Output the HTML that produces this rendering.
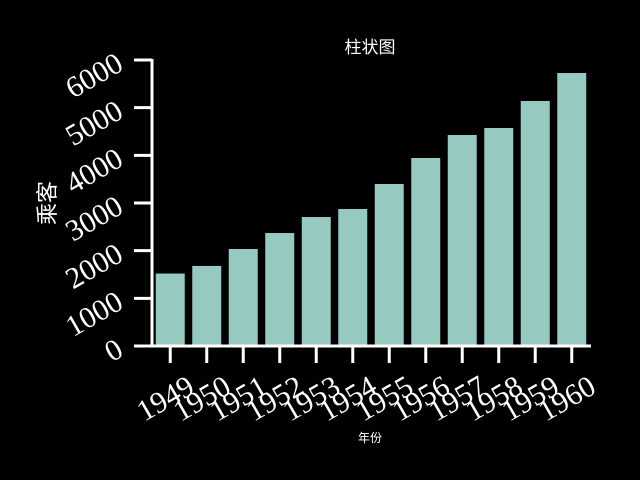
<!DOCTYPE html>
<html><head><meta charset="utf-8"><style>
html,body{margin:0;padding:0;background:#000;}
svg{display:block;}
svg text.serif{font-family:"Liberation Serif","DejaVu Serif","Times New Roman",serif !important;}
</style></head><body>
<svg id="chart" width="640" height="480" xmlns="http://www.w3.org/2000/svg">
<rect x="0" y="0" width="640" height="480" fill="#000"/>
<text x="370" y="53" fill="#fff" font-size="17" text-anchor="middle" style="font-family:'Liberation Sans','Noto Sans CJK SC',sans-serif">柱状图</text>
<text x="370" y="442" fill="#fff" font-size="12" text-anchor="middle" style="font-family:'Liberation Sans','Noto Sans CJK SC',sans-serif">年份</text>
<text transform="translate(55,203) rotate(-90)" fill="#fff" font-size="22" text-anchor="middle" style="font-family:'Liberation Sans','Noto Sans CJK SC',sans-serif">乘客</text>
<g id="bars"></g><g id="axes"></g>
</svg>
<script>
const categories=["1949","1950","1951","1952","1953","1954","1955","1956","1957","1958","1959","1960"];
const values=[1520,1680,2035,2370,2706,2874,3399,3944,4427,4573,5140,5727];
const yTicks=[0,1000,2000,3000,4000,5000,6000];
const NS="http://www.w3.org/2000/svg";
const x0=152,x1=590,y0=346,yTop=60,yMax=6000;
const step=(x1-x0)/categories.length;
const bw=29;
function xs(i){return x0+step*(i+0.5);}
function ys(v){return y0-(y0-yTop)*v/yMax;}
function mk(tag,attrs){const e=document.createElementNS(NS,tag);for(const k in attrs)e.setAttribute(k,attrs[k]);return e;}
const bars=document.getElementById('bars'),axes=document.getElementById('axes');
const SERIF='"Liberation Serif", "DejaVu Serif", serif';
categories.forEach((c,i)=>{
  const r=mk('rect',{x:xs(i)-bw/2,y:ys(values[i]),width:bw,height:y0-ys(values[i]),fill:'#96cac1'});
  
  
  bars.appendChild(r);
  const t=mk('line',{x1:xs(i),x2:xs(i),y1:y0,y2:y0+17,stroke:'#fff','stroke-width':3});
  
  
  axes.appendChild(t);
  const l=mk('text',{transform:'translate('+xs(i)+','+(y0+61)+') rotate(-30)',fill:'#fff','font-size':30,'text-anchor':'middle','class':'serif','font-family':SERIF});
  l.style.fontFamily=SERIF;
  l.textContent=c;
  
  
  axes.appendChild(l);
});
yTicks.forEach(v=>{
  const t=mk('line',{x1:134,x2:152,y1:ys(v),y2:ys(v),stroke:'#fff','stroke-width':3});
  
  
  axes.appendChild(t);
  const l=mk('text',{transform:'translate(125,'+(ys(v)+9)+') rotate(-30)',fill:'#fff','font-size':30,'text-anchor':'end','class':'serif','font-family':SERIF});
  l.style.fontFamily=SERIF;
  l.textContent=v;
  
  
  axes.appendChild(l);
});
const ya=mk('line',{x1:152,x2:152,y1:yTop-1,y2:y0+1.5,stroke:'#fff','stroke-width':3});


axes.appendChild(ya);
const xa=mk('line',{x1:134,x2:591,y1:y0,y2:y0,stroke:'#fff','stroke-width':3});


axes.appendChild(xa);
</script>
</body></html>
